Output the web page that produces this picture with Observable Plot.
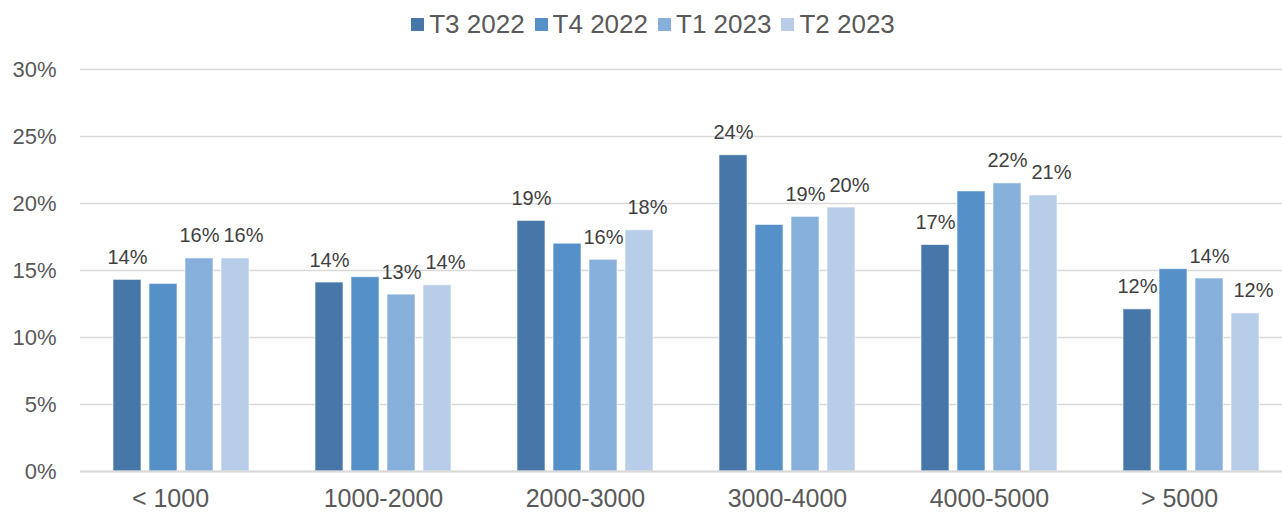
<!DOCTYPE html>
<html>
<head>
<meta charset="utf-8">
<script src="https://cdn.jsdelivr.net/npm/d3@7"></script>
<script src="https://cdn.jsdelivr.net/npm/@observablehq/plot@0.6"></script>
<style>
  html, body { margin: 0; padding: 0; background: #fff; }
  body { width: 1282px; height: 513px; overflow: hidden; font-family: "Liberation Sans", Arial, sans-serif; }
  #legend { width: 1282px; height: 48px; display: flex; justify-content: center; align-items: center; padding-left: 24px; box-sizing: border-box; }
  .item { display: flex; align-items: center; margin: 0 5px; font-size: 26px; color: #595959; }
  .sw { width: 13px; height: 13px; margin-right: 5px; display: inline-block; }
  #chart { width: 1282px; overflow: hidden; }
  #chart svg { display: block; max-width: none; }
</style>
</head>
<body>
<div id="legend"></div>
<div id="chart"></div>
<script>
const categories = ["< 1000", "1000-2000", "2000-3000", "3000-4000", "4000-5000", "> 5000"];
const series = ["T3 2022", "T4 2022", "T1 2023", "T2 2023"];
const colors = ["#4677A8", "#5591C8", "#86AFDC", "#B8CEE8"];
const t3_2022 = [14.3, 14.1, 18.7, 23.6, 16.9, 12.1];
const t4_2022 = [14.0, 14.5, 17.0, 18.4, 20.9, 15.1];
const t1_2023 = [15.9, 13.2, 15.8, 19.0, 21.5, 14.4];
const t2_2023 = [15.9, 13.9, 18.0, 19.7, 20.6, 11.8];
const labeledSeries = ["T3 2022", "T1 2023", "T2 2023"];
const yTicks = [0, 5, 10, 15, 20, 25, 30];

const valuesBySeries = [t3_2022, t4_2022, t1_2023, t2_2023];
const data = categories.flatMap((c, i) =>
  series.map((s, j) => ({category: c, series: s, value: valuesBySeries[j][i]}))
);

// Legend
const legend = document.getElementById("legend");
series.forEach((s, j) => {
  const it = document.createElement("div");
  it.className = "item";
  const sw = document.createElement("span");
  sw.className = "sw";
  sw.style.background = colors[j];
  it.appendChild(sw);
  it.appendChild(document.createTextNode(s));
  legend.appendChild(it);
});

const labelStyle = {fx: "category", x: "series", y: "value", text: d => Math.round(d.value) + "%",
  lineAnchor: "bottom", dy: -16, fontSize: 20, fill: "#404040"};

const catStyle = {fx: d => d, text: d => d, frameAnchor: "bottom", lineAnchor: "top",
  dy: 18, fontSize: 25, fill: "#595959"};
const first = categories[0], last = categories[categories.length - 1];

const chart = Plot.plot({
  width: 1294,
  height: 465,
  marginTop: 21,
  marginBottom: 42,
  marginLeft: 78,
  marginRight: 0,
  style: {fontFamily: "'Liberation Sans', Arial, sans-serif", background: "white", maxWidth: "none"},
  fx: {domain: categories, padding: 0, label: null, axis: null},
  x: {domain: series, paddingInner: 0.21, paddingOuter: 0.86, axis: null},
  y: {domain: [0, 30], axis: null},
  color: {domain: series, range: colors},
  marks: [
    Plot.ruleY(yTicks, {y: d => d, stroke: "#d9d9d9", strokeWidth: 1.5}),
    Plot.axisY({ticks: yTicks, tickSize: 0, tickPadding: 24, tickFormat: d => d + "%", fontSize: 22, fill: "#595959", label: null}),
    Plot.barY(data, {fx: "category", x: "series", y: "value", fill: "series", stroke: "white", strokeOpacity: 0.6, strokeWidth: 1}),
    Plot.ruleY([0], {stroke: "#d9d9d9", strokeWidth: 2}),
    Plot.text(data.filter(d => labeledSeries.includes(d.series) && d.series !== "T2 2023"), labelStyle),
    Plot.text(data.filter(d => d.series === "T2 2023"), {...labelStyle, dx: 8}),
    Plot.text(categories.filter(c => c !== first && c !== last), catStyle),
    Plot.text([first], {...catStyle, dx: -11}),
    Plot.text([last], {...catStyle, dx: -12})
  ]
});
document.getElementById("chart").appendChild(chart);
</script>
</body>
</html>
